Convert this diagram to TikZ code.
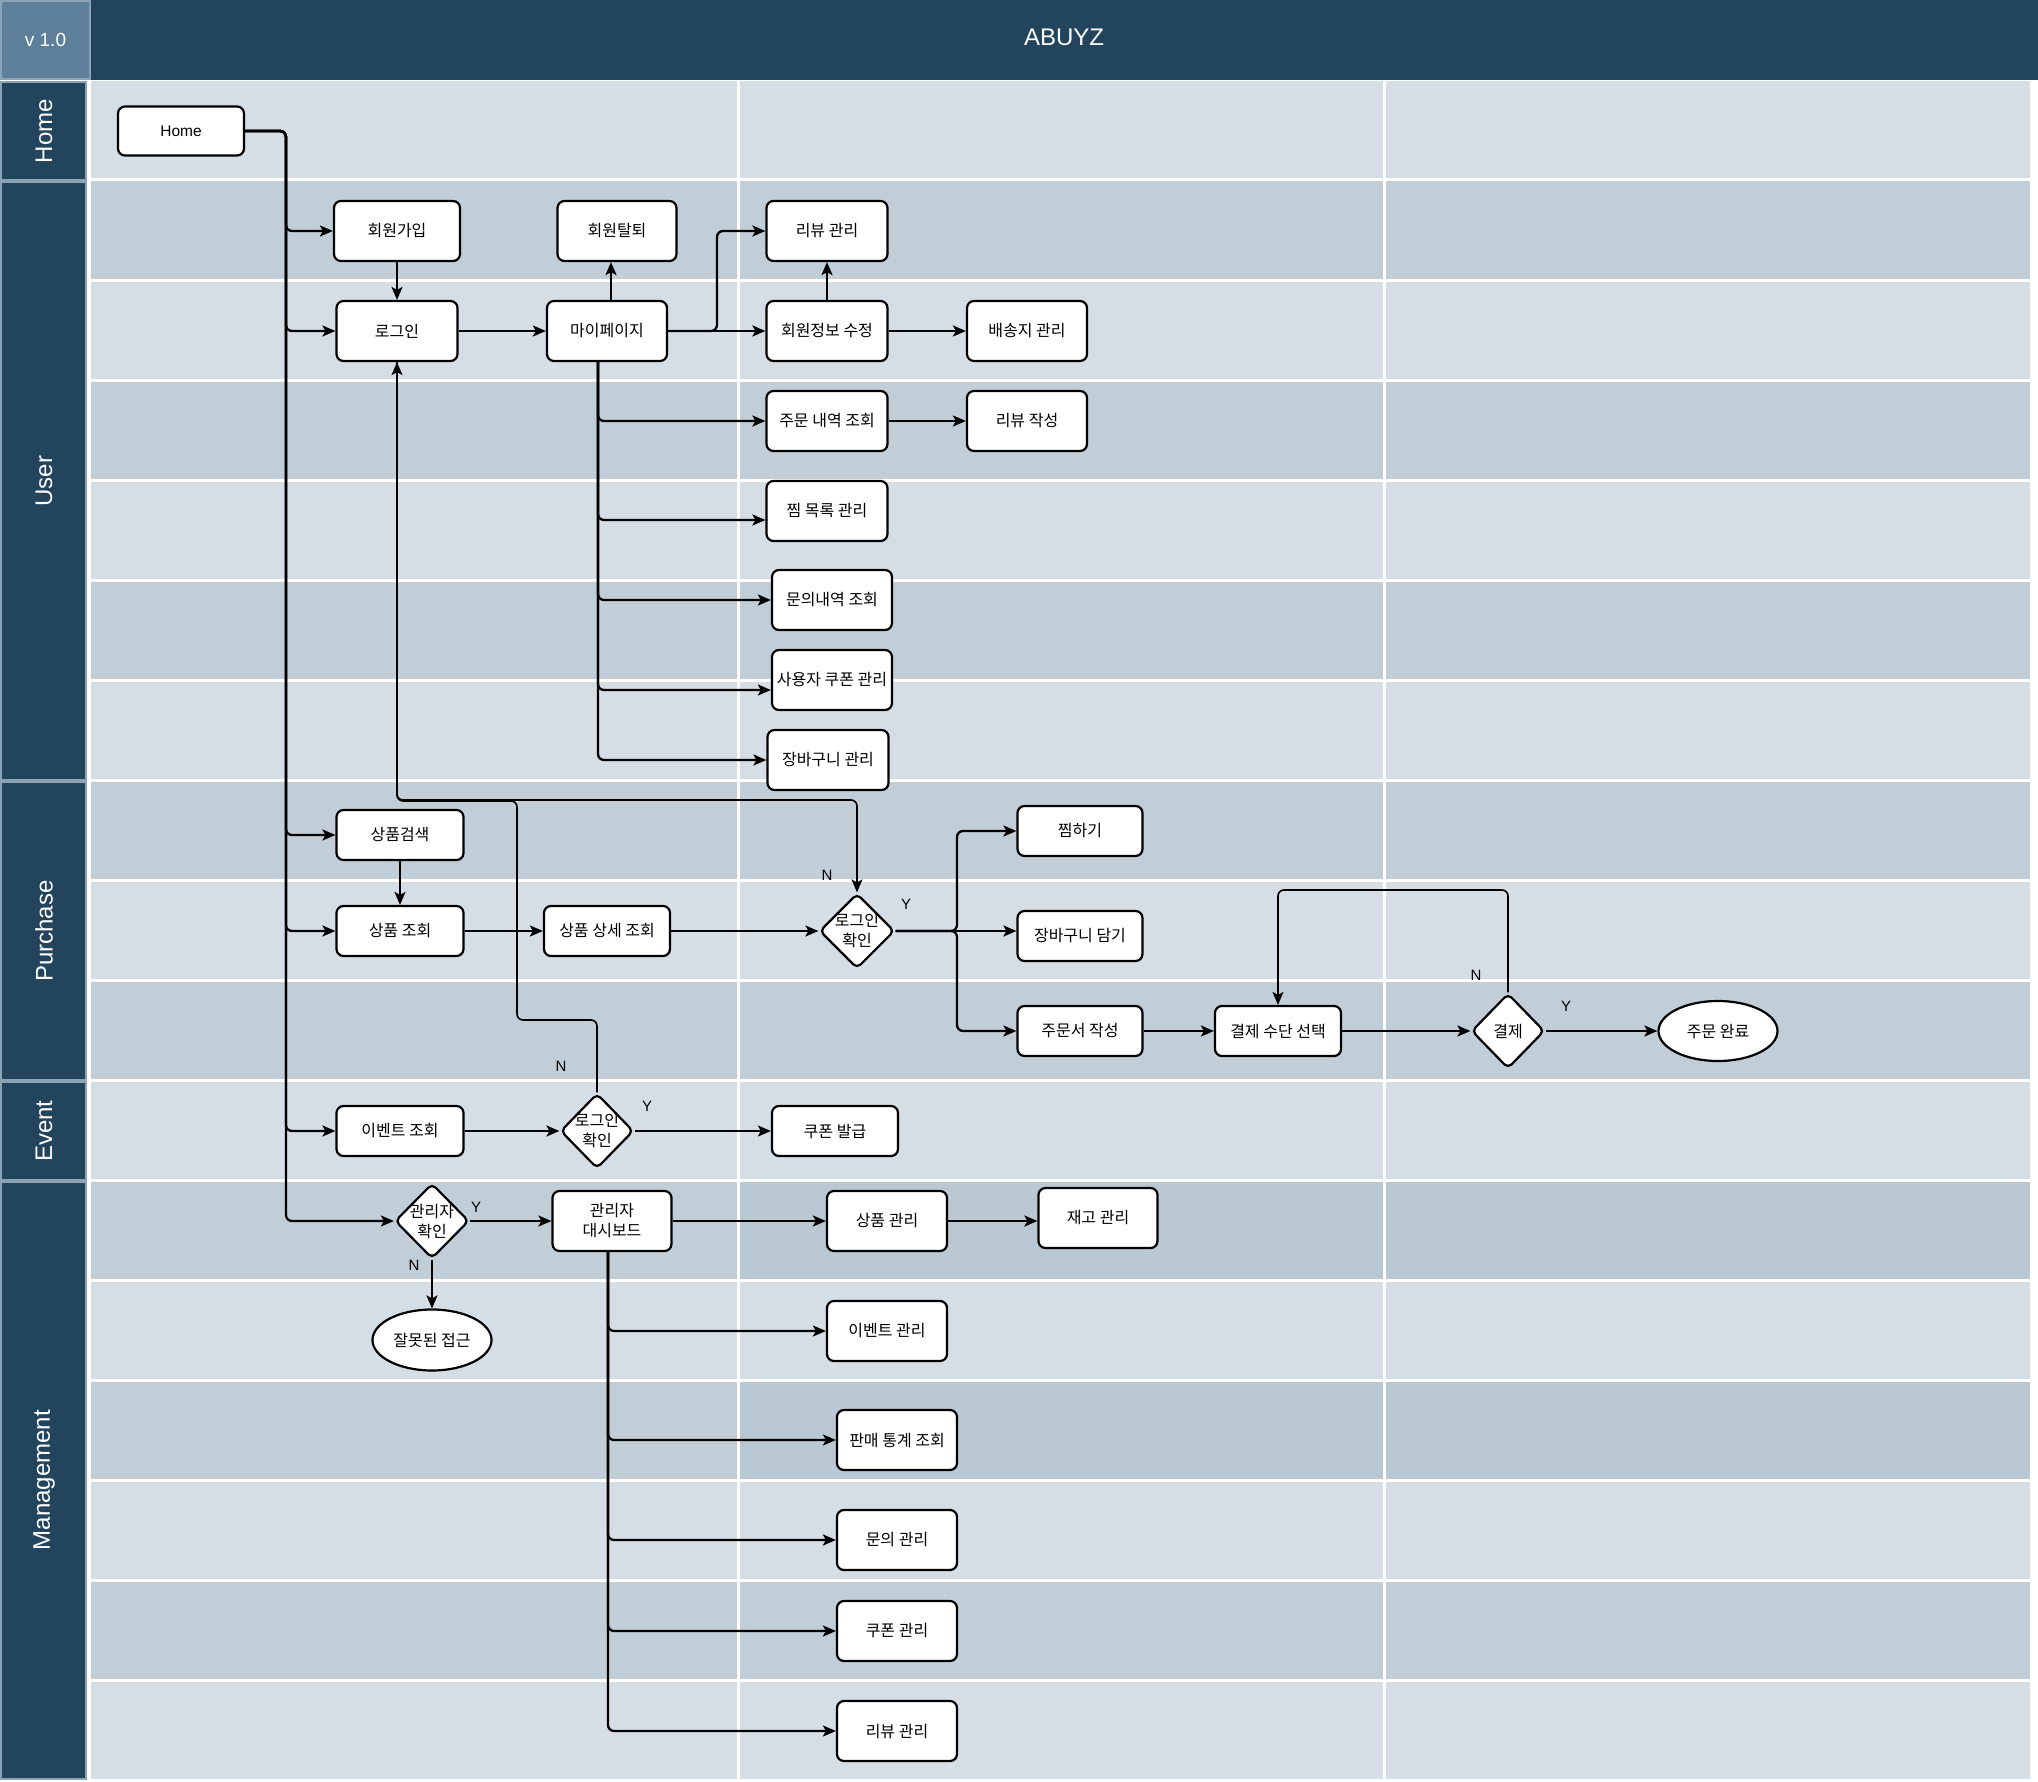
\documentclass[tikz,border=0pt]{standalone}
\usepackage{fontspec}
\setmainfont{Liberation Sans}
\newfontfamily\kr{Noto Sans CJK KR}
\usetikzlibrary{shapes.geometric,arrows.meta}
\definecolor{hdr}{HTML}{23445D}
\definecolor{vcell}{HTML}{5D7F99}
\definecolor{rowL}{HTML}{D5DDE5}
\definecolor{rowD}{HTML}{C1CED8}
\definecolor{rowM}{HTML}{BAC8D3}
\definecolor{laneB}{HTML}{8CA2B5}
\begin{document}
\begin{tikzpicture}[x=1pt,y=-1pt,
  box/.style={draw, line width=2.2pt, rounded corners=7pt, fill=white, font=\kr\fontsize{16}{20}\selectfont, inner sep=0pt, minimum height=60pt, align=center},
  sbox/.style={box, minimum height=50pt},
  dia/.style={draw, diamond, line width=2.2pt, rounded corners=5pt, fill=white, inner sep=0pt, minimum width=75pt, minimum height=75pt},
  dtext/.style={font=\kr\fontsize{16}{20}\selectfont, align=center, inner sep=0pt},
  ell/.style={draw, ellipse, line width=2.2pt, fill=white, inner sep=0pt, minimum width=119pt, minimum height=60pt, font=\kr\fontsize{16}{20}\selectfont},
  conn/.style={line width=2.3pt, rounded corners=6pt, -{Stealth[length=13pt,width=11pt,inset=3pt]}},
  thin/.style={conn, line width=1.6pt},
  lbl/.style={font=\fontsize{15}{18}\selectfont, inner sep=0pt},
  lanebox/.style={fill=hdr, draw=laneB, line width=2pt},
  lanetext/.style={rotate=90, text=white, font=\fontsize{24}{28}\selectfont, inner sep=0pt}
]
\useasboundingbox (0,0) rectangle (2038,1782);
\fill[white] (0,0) rectangle (2038,1782);
% rows
\foreach \i in {0,...,16}{
  \ifodd\i
    \fill[rowD] (91,{80+100*\i}) rectangle (2030,{180+100*\i});
  \else
    \fill[rowL] (91,{80+100*\i}) rectangle (2030,{180+100*\i});
  \fi
}
\fill[rowM] (738,1180) rectangle (2030,1280);
\fill[rowM] (738,1380) rectangle (2030,1480);
\foreach \i in {0,...,17}{
  \draw[white, line width=3pt] (88,{80+100*\i}) -- (2032,{80+100*\i});
}
\draw[white, line width=3pt] (738,80) -- (738,1782);
\draw[white, line width=3pt] (1384,80) -- (1384,1782);
% header
\fill[hdr] (91,0) rectangle (2038,80);
\path[fill=vcell, draw=laneB, line width=2pt] (1,1) rectangle (90,79);
\node[text=white, font=\fontsize{19}{22}\selectfont, inner sep=0pt] (ver) at (45.5,40) {v 1.0};
\node[text=white, font=\fontsize{24}{28}\selectfont, inner sep=0pt] (title) at (1064,37) {ABUYZ};
% lane labels
\path[lanebox] (1,82) rectangle (86,180);
\path[lanebox] (1,182) rectangle (86,780);
\path[lanebox] (1,782) rectangle (86,1080);
\path[lanebox] (1,1082) rectangle (86,1180);
\path[lanebox] (1,1182) rectangle (86,1779);
\node[lanetext] (tHome) at (44,131) {Home};
\node[lanetext] (tUser) at (44,481) {User};
\node[lanetext] (tPurchase) at (44,931) {Purchase};
\node[lanetext] (tEvent) at (44,1131) {Event};
\node[lanetext] (tMgmt) at (44,1480) {Management};

% nodes
\node[box, minimum width=126pt, minimum height=49pt, font=\fontsize{15.5}{18}\selectfont] (home) at (181,131) {Home};
\node[box, minimum width=126pt] (signup) at (397,231) {회원가입};
\node[box, minimum width=119pt] (withdraw) at (617,231) {회원탈퇴};
\node[box, minimum width=121pt] (review1) at (827,231) {리뷰 관리};
\node[box, minimum width=121pt] (login) at (397,331) {로그인};
\node[box, minimum width=120pt] (mypage) at (607,331) {마이페이지};
\node[box, minimum width=121pt] (edit) at (827,331) {회원정보 수정};
\node[box, minimum width=120pt] (addr) at (1027,331) {배송지 관리};
\node[box, minimum width=121pt] (orders) at (827,421) {주문 내역 조회};
\node[box, minimum width=120pt] (rwrite) at (1027,421) {리뷰 작성};
\node[box, minimum width=121pt] (wish) at (827,511) {찜 목록 관리};
\node[box, minimum width=120pt] (inq) at (832,600) {문의내역 조회};
\node[box, minimum width=120pt] (ucoupon) at (832,680) {사용자 쿠폰 관리};
\node[box, minimum width=121pt] (cart) at (828,760) {장바구니 관리};

\node[sbox, minimum width=127pt] (search) at (400,835) {상품검색};
\node[sbox, minimum width=127pt] (plist) at (400,931) {상품 조회};
\node[sbox, minimum width=126pt] (pdetail) at (607,931) {상품 상세 조회};
\node[dia] (d1) at (857,931) {};
\node[dtext] (d1t) at (857,931) {로그인\\확인};
\node[sbox, minimum width=125pt] (wish2) at (1080,831) {찜하기};
\node[sbox, minimum width=125pt] (cartadd) at (1080,936) {장바구니 담기};
\node[sbox, minimum width=125pt] (order) at (1080,1031) {주문서 작성};
\node[sbox, minimum width=126pt] (paym) at (1278,1031) {결제 수단 선택};
\node[dia, minimum width=73pt] (d2) at (1508,1031) {};
\node[dtext] (d2t) at (1508,1031) {결제};
\node[ell] (done) at (1718,1031) {주문 완료};

\node[sbox, minimum width=127pt] (evlist) at (400,1131) {이벤트 조회};
\node[dia, minimum width=73pt] (d3) at (597,1131) {};
\node[dtext] (d3t) at (597,1131) {로그인\\확인};
\node[sbox, minimum width=126pt] (coupon) at (835,1131) {쿠폰 발급};

\node[dia, minimum width=74pt] (d4) at (432,1221) {};
\node[dtext] (d4t) at (432,1221) {관리자\\확인};
\node[box, minimum width=119pt] (dash) at (612,1221) {관리자\\대시보드};
\node[box, minimum width=120pt] (pm) at (887,1221) {상품 관리};
\node[box, minimum width=119pt] (stock) at (1098,1218) {재고 관리};
\node[ell, minimum height=61pt] (wrong) at (432,1340) {잘못된 접근};
\node[box, minimum width=120pt] (evm) at (887,1331) {이벤트 관리};
\node[box, minimum width=120pt] (stat) at (897,1440) {판매 통계 조회};
\node[box, minimum width=120pt] (inqm) at (897,1540) {문의 관리};
\node[box, minimum width=120pt] (cpm) at (897,1631) {쿠폰 관리};
\node[box, minimum width=120pt] (rvm) at (897,1731) {리뷰 관리};

% home trunk
\coordinate (hx) at (286,131);
\foreach \t in {signup,login,search,plist,evlist,d4}{
  \draw[conn] (home.east) -- (hx) |- (\t.west);
}
% user
\draw[conn] (signup.south) -- (login.north);
\draw[conn] (login.east) -- (mypage.west);
\draw[conn] ([xshift=4pt]mypage.north) -- ([xshift=4pt]mypage.north |- withdraw.south);
\draw[conn] (mypage.east) -- (edit.west);
\coordinate (mx) at (717,331);
\draw[conn] (mypage.east) -- (mx) |- (review1.west);
\draw[conn] (edit.north) -- (review1.south);
\draw[conn] (edit.east) -- (addr.west);
\draw[conn] (orders.east) -- (rwrite.west);
\coordinate (mt) at (598,361);
\draw[conn] (mt) |- (orders.west);
\draw[conn] (mt) |- ([yshift=-9pt]wish.west);
\draw[conn] (mt) |- (inq.west);
\draw[conn] (mt) |- ([yshift=-10pt]ucoupon.west);
\draw[conn] (mt) |- (cart.west);
% purchase
\draw[thin] (search.south) -- (plist.north);
\draw[conn] (plist.east) -- (pdetail.west);
\draw[conn] (pdetail.east) -- (d1.west);
\coordinate (bx) at (957,931);
\draw[conn] (d1.east) -- (bx) |- (wish2.west);
\draw[conn] (d1.east) -- ([yshift=5pt]cartadd.west);
\draw[conn] (d1.east) -- (bx) |- (order.west);
\draw[conn] (order.east) -- (paym.west);
\draw[conn] (paym.east) -- (d2.west);
\draw[conn] (d2.east) -- (done.west);
\draw[thin] (d2.north) -- (1508,890) -| (paym.north);
% login loops
\coordinate (la) at (397,800);
\draw[thin] (login.south) -- (la) -| (d1.north);
\draw[thin] (d3.north) -- (597,1020) -- (517,1020) -- (517,801) -- (397,801) -- (login.south);
% event
\draw[conn] (evlist.east) -- (d3.west);
\draw[conn] (d3.east) -- (coupon.west);
% management
\draw[conn] (d4.east) -- (dash.west);
\draw[conn] (dash.east) -- (pm.west);
\draw[conn] (pm.east) -- ([yshift=-3pt]stock.west);
\draw[conn] (d4.south) -- (wrong.north);
\coordinate (dt) at (608,1251);
\foreach \t in {evm,stat,inqm,cpm,rvm}{
  \draw[conn] (dt) |- (\t.west);
}
% labels
\node[lbl] (n1) at (827,875) {N};
\node[lbl] (y1) at (906,904) {Y};
\node[lbl] (n2) at (1476,975) {N};
\node[lbl] (y2) at (1566,1006) {Y};
\node[lbl] (n3) at (561,1066) {N};
\node[lbl] (y3) at (647,1106) {Y};
\node[lbl] (y4) at (476,1207) {Y};
\node[lbl] (n4) at (414,1265) {N};
\end{tikzpicture}
\end{document}
